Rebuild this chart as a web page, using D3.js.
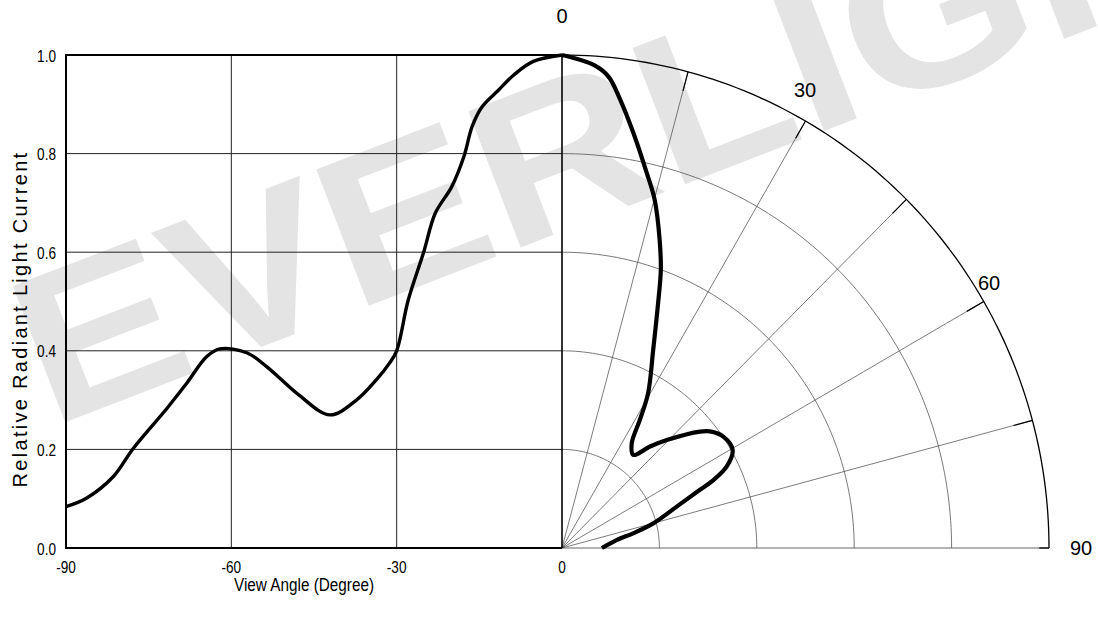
<!DOCTYPE html>
<html>
<head>
<meta charset="utf-8">
<script src="https://cdn.jsdelivr.net/npm/d3@7"></script>
<style>
  body { margin: 0; background: #fff; }
  svg { display: block; }
  text { font-family: "Liberation Sans", Arial, sans-serif; }
</style>
</head>
<body>
<div id="chart"></div>
<script>
// left half: cartesian view, angle -90..0
const leftAngles = [-90, -86.3, -81.4, -77.8, -71.7, -68.1, -64.5, -62.1, -57.2, -53.6, -47.6, -42.1, -37.3, -33.7, -31.3, -30, -27.9, -25.1, -23, -20, -17.8, -16.3, -14.5, -11.5, -8.8, -5.2, 0]
const leftValues = [0.084, 0.101, 0.145, 0.202, 0.283, 0.334, 0.388, 0.404, 0.396, 0.368, 0.309, 0.27, 0.3, 0.341, 0.375, 0.4, 0.503, 0.6, 0.679, 0.733, 0.794, 0.855, 0.895, 0.929, 0.959, 0.987, 1.0]
// right half: polar view, angle 0..90
const rightAngles = [0, 3.8, 5.7, 7.5, 9.9, 12.9, 15.1, 17.8, 19.8, 21.5, 25, 29.4, 31.6, 34, 37.8, 41.3, 44.5, 50.2, 52.1, 55.7, 60.4, 64, 66.1, 67.4, 70.4, 75.1, 78.5, 81.8, 90]
const rightValues = [1.0, 0.982, 0.961, 0.917, 0.854, 0.78, 0.731, 0.656, 0.599, 0.54, 0.443, 0.36, 0.305, 0.256, 0.239, 0.274, 0.307, 0.369, 0.385, 0.401, 0.403, 0.376, 0.34, 0.306, 0.25, 0.194, 0.149, 0.113, 0.082]

const xTicks = [-90, -60, -30, 0]
const yTicks = [0, 0.2, 0.4, 0.6, 0.8, 1.0]
const spokeAngles = [15, 30, 45, 60, 75]
const ringValues = [0.2, 0.4, 0.6, 0.8]
const polarLabels = [0, 30, 60, 90]

const width = 1098
const height = 620
const cx = 562
const cy = 548

const x = d3.scaleLinear().domain([-90, 0]).range([66, cx])
const y = d3.scaleLinear().domain([0, 1]).range([cy, 55])
const rx = d3.scaleLinear().domain([0, 1]).range([0, 487])
const ry = d3.scaleLinear().domain([0, 1]).range([0, 493])

const polar = (deg, r) => {
  const a = (deg * Math.PI) / 180
  return [cx + rx(r) * Math.sin(a), cy - ry(r) * Math.cos(a)]
}

// squeeze text to look like a narrow face
const narrow = (sel, k) =>
  sel.each(function () {
    const len = this.getComputedTextLength()
    d3.select(this)
      .attr("textLength", len * k)
      .attr("lengthAdjust", "spacingAndGlyphs")
  })

const svg = d3
  .select("#chart")
  .append("svg")
  .attr("width", width)
  .attr("height", height)

// watermark
svg
  .append("text")
  .attr("transform", "translate(50,428) rotate(-21) scale(1.15,1)")
  .attr("font-size", 212)
  .attr("font-weight", "bold")
  .attr("fill", "#e4e4e4")
  .text("EVERLIGHT")

const grid = svg.append("g")

grid
  .selectAll(".hgrid")
  .data(yTicks.slice(1, -1))
  .enter()
  .append("line")
  .attr("x1", x(-90))
  .attr("x2", x(0))
  .attr("y1", d => y(d))
  .attr("y2", d => y(d))
  .attr("stroke", "#222")
  .attr("stroke-width", 1)

grid
  .selectAll(".vgrid")
  .data(xTicks.slice(1, -1))
  .enter()
  .append("line")
  .attr("x1", d => x(d))
  .attr("x2", d => x(d))
  .attr("y1", y(0))
  .attr("y2", y(1))
  .attr("stroke", "#222")
  .attr("stroke-width", 1)

// polar rings
const arcLine = d3.line()
const arcSteps = d3.range(0, 90.5, 1)
grid
  .selectAll(".ring")
  .data(ringValues)
  .enter()
  .append("path")
  .attr("d", r => arcLine(arcSteps.map(a => polar(a, r))))
  .attr("fill", "none")
  .attr("stroke", "#555")
  .attr("stroke-width", 0.8)

// spokes
grid
  .selectAll(".spoke")
  .data(spokeAngles)
  .enter()
  .append("line")
  .attr("x1", cx)
  .attr("y1", cy)
  .attr("x2", a => polar(a, 1)[0])
  .attr("y2", a => polar(a, 1)[1])
  .attr("stroke", "#444")
  .attr("stroke-width", 0.7)

grid
  .selectAll(".spoketick")
  .data(spokeAngles)
  .enter()
  .append("line")
  .attr("x1", a => polar(a, 0.96)[0])
  .attr("y1", a => polar(a, 0.96)[1])
  .attr("x2", a => polar(a, 1)[0])
  .attr("y2", a => polar(a, 1)[1])
  .attr("stroke", "#000")
  .attr("stroke-width", 1.2)

grid
  .append("line")
  .attr("x1", cx)
  .attr("x2", polar(90, 1)[0])
  .attr("y1", cy)
  .attr("y2", cy)
  .attr("stroke", "#555")
  .attr("stroke-width", 0.9)
grid
  .append("line")
  .attr("x1", polar(90, 0.98)[0])
  .attr("x2", polar(90, 1)[0])
  .attr("y1", cy)
  .attr("y2", cy)
  .attr("stroke", "#000")
  .attr("stroke-width", 1.3)

// outer arc
grid
  .append("path")
  .attr("d", arcLine(arcSteps.map(a => polar(a, 1))))
  .attr("fill", "none")
  .attr("stroke", "#000")
  .attr("stroke-width", 1.3)

// frame of cartesian part
grid
  .append("path")
  .attr("d", `M${x(0)},${y(1)}H${x(-90)}V${y(0)}H${x(0)}`)
  .attr("fill", "none")
  .attr("stroke", "#000")
  .attr("stroke-width", 2)
grid
  .append("line")
  .attr("x1", x(0))
  .attr("x2", x(0))
  .attr("y1", y(0))
  .attr("y2", y(1))
  .attr("stroke", "#000")
  .attr("stroke-width", 1.6)

// tick labels
svg
  .append("g")
  .selectAll("text")
  .data(yTicks)
  .enter()
  .append("text")
  .attr("x", 56)
  .attr("y", d => y(d) + 6.5)
  .attr("text-anchor", "end")
  .attr("font-size", 17)
  .text(d => d.toFixed(1))
  .call(narrow, 0.8)

svg
  .append("g")
  .selectAll("text")
  .data(xTicks)
  .enter()
  .append("text")
  .attr("x", d => x(d))
  .attr("y", 573)
  .attr("text-anchor", "middle")
  .attr("font-size", 17)
  .text(d => d)
  .call(narrow, 0.8)

svg
  .append("text")
  .attr("x", 304)
  .attr("y", 591)
  .attr("text-anchor", "middle")
  .attr("font-size", 18)
  .text("View Angle (Degree)")
  .call(narrow, 0.85)

svg
  .append("text")
  .attr("transform", "translate(27,319) rotate(-90)")
  .attr("text-anchor", "middle")
  .attr("font-size", 20)
  .attr("letter-spacing", 2.3)
  .text("Relative Radiant Light Current")

// polar labels
const labelPos = { 0: [562, 23], 30: [805, 97], 60: [989, 290], 90: [1081, 555] }
svg
  .append("g")
  .selectAll("text")
  .data(polarLabels)
  .enter()
  .append("text")
  .attr("x", d => labelPos[d][0])
  .attr("y", d => labelPos[d][1])
  .attr("text-anchor", "middle")
  .attr("font-size", 20)
  .text(d => d)

// curves
const leftLine = d3
  .line()
  .x(d => x(d[0]))
  .y(d => y(d[1]))
  .curve(d3.curveCatmullRom)
svg
  .append("path")
  .datum(leftAngles.map((a, i) => [a, leftValues[i]]))
  .attr("d", leftLine)
  .attr("fill", "none")
  .attr("stroke", "#000")
  .attr("stroke-width", 3.4)
  .attr("stroke-linejoin", "round")

const rightLine = d3
  .line()
  .x(d => polar(d[0], d[1])[0])
  .y(d => polar(d[0], d[1])[1])
  .curve(d3.curveCatmullRom)
svg
  .append("path")
  .datum(rightAngles.map((a, i) => [a, rightValues[i]]))
  .attr("d", rightLine)
  .attr("fill", "none")
  .attr("stroke", "#000")
  .attr("stroke-width", 4.2)
  .attr("stroke-linejoin", "round")
</script>
</body>
</html>
